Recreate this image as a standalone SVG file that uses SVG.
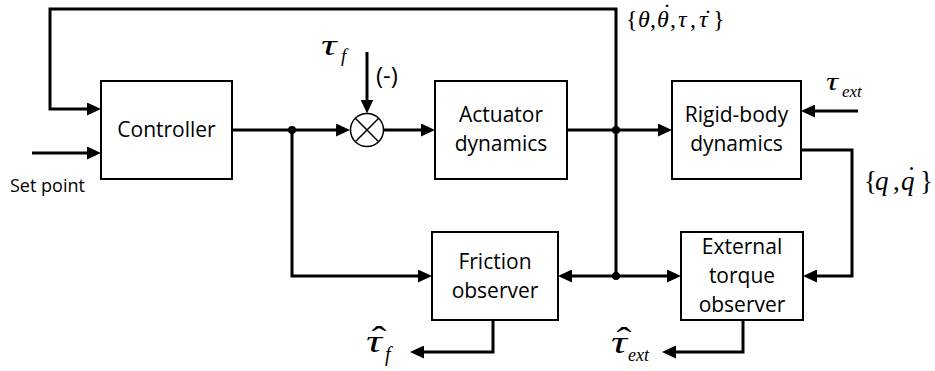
<svg xmlns="http://www.w3.org/2000/svg" width="935" height="371" viewBox="0 0 935 371">
<style>
.box{fill:#fff;stroke:#000;stroke-width:2}
.ln{fill:none;stroke:#000;stroke-width:3}
.lb{font-family:"Open Sans","Liberation Sans",sans-serif;font-size:21px;fill:#000;text-anchor:middle}
.m{font-family:"Liberation Serif","Times New Roman",serif;font-style:italic;fill:#000}
.u{font-family:"Liberation Serif","Times New Roman",serif;font-style:normal;fill:#000}
</style>
<defs>
<marker id="ah" markerUnits="userSpaceOnUse" markerWidth="14" markerHeight="13" refX="6" refY="6.5" orient="auto">
<path d="M0,0 L14,6.5 L0,13 z" fill="#000"/>
</marker>
</defs>
<rect width="935" height="371" fill="#fff"/>
<g id="connectors">
<path class="ln" d="M616,276 V9 H50 V109 H93" marker-end="url(#ah)"/>
<path class="ln" d="M32,153 H93" marker-end="url(#ah)"/>
<path class="ln" d="M232,130 H342" marker-end="url(#ah)"/>
<path class="ln" d="M367,52 V105.5" marker-end="url(#ah)"/>
<path class="ln" d="M383.5,130 H427" marker-end="url(#ah)"/>
<path class="ln" d="M567,130 H664" marker-end="url(#ah)"/>
<path class="ln" d="M858,111 H809" marker-end="url(#ah)"/>
<path class="ln" d="M801,150 H852 V276 H811" marker-end="url(#ah)"/>
<path class="ln" d="M292,130 V276 H424" marker-end="url(#ah)"/>
<path class="ln" d="M616,276 H566" marker-end="url(#ah)"/>
<path class="ln" d="M616,276 H673" marker-end="url(#ah)"/>
<path class="ln" d="M493,320 V352 H418" marker-end="url(#ah)"/>
<path class="ln" d="M743,320 V352 H670" marker-end="url(#ah)"/>
<circle cx="292" cy="130" r="4" fill="#000"/>
<circle cx="616" cy="130" r="4" fill="#000"/>
<circle cx="616" cy="276" r="4" fill="#000"/>
</g>
<g id="controller">
<rect class="box" x="101" y="81" width="131" height="98"/>
<text class="lb" x="166.5" y="137">Controller</text>
</g>
<g id="sum">
<circle cx="367" cy="130" r="16.5" fill="#fff" stroke="#000" stroke-width="1.5"/>
<path d="M355.3,118.3 L378.7,141.7 M378.7,118.3 L355.3,141.7" stroke="#000" stroke-width="1.5"/>
</g>
<g id="actuator">
<rect class="box" x="435" y="81" width="132" height="98"/>
<text class="lb" x="501" y="122">Actuator</text>
<text class="lb" x="501" y="151">dynamics</text>
</g>
<g id="rigid">
<rect class="box" x="672" y="81" width="129" height="98"/>
<text class="lb" x="736.5" y="122">Rigid-body</text>
<text class="lb" x="736.5" y="151">dynamics</text>
</g>
<g id="friction">
<rect class="box" x="432" y="232" width="126" height="88"/>
<text class="lb" x="495" y="269">Friction</text>
<text class="lb" x="495" y="298">observer</text>
</g>
<g id="external">
<rect class="box" x="681" y="232" width="122" height="88"/>
<text class="lb" x="742" y="254">External</text>
<text class="lb" x="742" y="283">torque</text>
<text class="lb" x="742" y="312">observer</text>
</g>
<g id="labels">
<text x="10" y="192" style="font-family:'Open Sans','Liberation Sans',sans-serif;font-size:18px">Set point</text>
<text x="376" y="84" style="font-family:'Open Sans','Liberation Sans',sans-serif;font-size:24px">(-)</text>
<text class="m" font-size="30" transform="translate(321,55) scale(1.45,1)">τ</text>
<text class="m" x="341" y="62" font-size="19">f</text>
<text font-size="24"><tspan class="u" x="626" y="27">{</tspan><tspan class="m" x="638" y="27">θ</tspan><tspan class="u" x="650" y="27">,</tspan><tspan class="m" x="657" y="27">θ</tspan><tspan class="u" x="663" y="20">˙</tspan><tspan class="u" x="670" y="27">,</tspan><tspan class="m" x="678" y="27">τ</tspan><tspan class="u" x="690" y="27">,</tspan><tspan class="m" x="699" y="27">τ</tspan><tspan class="u" x="704" y="26">˙</tspan><tspan class="u" x="713" y="27">}</tspan></text>
<text class="m" font-size="26" transform="translate(826,90) scale(1.3,1)">τ</text>
<text class="m" x="842" y="97" font-size="17">ext</text>
<text font-size="27"><tspan class="u" x="864" y="190">{</tspan><tspan class="m" x="875" y="190">q</tspan><tspan class="u" x="893" y="190">,</tspan><tspan class="m" x="901" y="190">q</tspan><tspan class="u" x="907" y="185">˙</tspan><tspan class="u" x="920" y="190">}</tspan></text>
<text font-size="32" transform="translate(366,352) scale(1.4,1)"><tspan class="m" x="0" y="0">τ</tspan><tspan class="u" x="4" y="-4">ˆ</tspan></text>
<text class="m" x="385" y="361" font-size="20">f</text>
<text font-size="32" transform="translate(611,353) scale(1.4,1)"><tspan class="m" x="0" y="0">τ</tspan><tspan class="u" x="4" y="-4">ˆ</tspan></text>
<text class="m" x="628" y="361" font-size="18">ext</text>
</g>
</svg>
